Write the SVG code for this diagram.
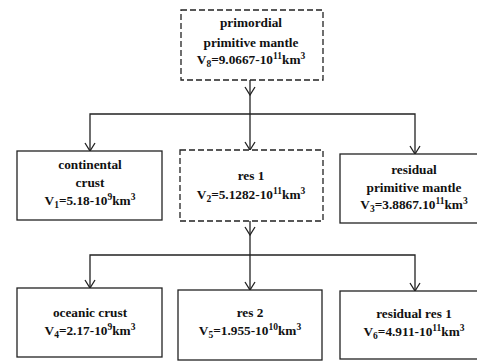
<svg xmlns="http://www.w3.org/2000/svg" width="477" height="361" viewBox="0 0 477 361">
<defs>
<style>
.box{fill:#fff;stroke:#222;stroke-width:1.3}
.dash{stroke-dasharray:6,3}
.t{font-family:"Liberation Serif","Times New Roman",serif;font-weight:bold;font-size:13.3px;fill:#111;text-anchor:middle}
.s{font-size:9.5px}
.c{fill:none;stroke:#222;stroke-width:1.3}
</style>
<marker id="arr" markerUnits="userSpaceOnUse" orient="auto" refX="0" refY="0" markerWidth="20" markerHeight="20" overflow="visible">
<path d="M-8,-5 L0,0 L-8,5" fill="none" stroke="#222" stroke-width="1.3"/>
</marker>
</defs>
<rect width="477" height="361" fill="#fff"/>
<g id="connectors">
<path class="c" d="M250,80 V95" marker-end="url(#arr)"/>
<path class="c" d="M250,95 V150" marker-end="url(#arr)"/>
<path class="c" d="M250,114 H90 V151" marker-end="url(#arr)"/>
<path class="c" d="M250,114 H415 V154" marker-end="url(#arr)"/>
<path class="c" d="M250,221 V235" marker-end="url(#arr)"/>
<path class="c" d="M250,235 V290" marker-end="url(#arr)"/>
<path class="c" d="M250,255 H90 V288" marker-end="url(#arr)"/>
<path class="c" d="M250,255 H415 V291" marker-end="url(#arr)"/>
</g>
<g id="primordial">
<rect class="box dash" x="181" y="10" width="142" height="70"/>
<text class="t" x="251" y="27">primordial</text>
<text class="t" x="251" y="47">primitive mantle</text>
<text class="t" x="251" y="64">V<tspan class="s" dy="3">8</tspan><tspan dy="-3">=9.0667-10</tspan><tspan class="s" dy="-5">11</tspan><tspan dy="5">km</tspan><tspan class="s" dy="-5">3</tspan></text>
</g>
<g id="continental">
<rect class="box" x="17" y="151" width="145" height="69"/>
<text class="t" x="90" y="169">continental</text>
<text class="t" x="90" y="187">crust</text>
<text class="t" x="90" y="205">V<tspan class="s" dy="3">1</tspan><tspan dy="-3">=5.18-10</tspan><tspan class="s" dy="-5">9</tspan><tspan dy="5">km</tspan><tspan class="s" dy="-5">3</tspan></text>
</g>
<g id="res1">
<rect class="box dash" x="180" y="150" width="143" height="71"/>
<text class="t" x="251" y="180">res 1</text>
<text class="t" x="251" y="199">V<tspan class="s" dy="3">2</tspan><tspan dy="-3">=5.1282-10</tspan><tspan class="s" dy="-5">11</tspan><tspan dy="5">km</tspan><tspan class="s" dy="-5">3</tspan></text>
</g>
<g id="residual-mantle">
<rect class="box" x="340" y="154" width="150" height="69"/>
<text class="t" x="414" y="174">residual</text>
<text class="t" x="414" y="192">primitive mantle</text>
<text class="t" x="414" y="209">V<tspan class="s" dy="3">3</tspan><tspan dy="-3">=3.8867.10</tspan><tspan class="s" dy="-5">11</tspan><tspan dy="5">km</tspan><tspan class="s" dy="-5">3</tspan></text>
</g>
<g id="oceanic">
<rect class="box" x="17" y="288" width="145" height="69"/>
<text class="t" x="90" y="317">oceanic crust</text>
<text class="t" x="90" y="335">V<tspan class="s" dy="3">4</tspan><tspan dy="-3">=2.17-10</tspan><tspan class="s" dy="-5">9</tspan><tspan dy="5">km</tspan><tspan class="s" dy="-5">3</tspan></text>
</g>
<g id="res2">
<rect class="box" x="178" y="290" width="144" height="70"/>
<text class="t" x="250" y="317">res 2</text>
<text class="t" x="250" y="335">V<tspan class="s" dy="3">5</tspan><tspan dy="-3">=1.955-10</tspan><tspan class="s" dy="-5">10</tspan><tspan dy="5">km</tspan><tspan class="s" dy="-5">3</tspan></text>
</g>
<g id="residual-res1">
<rect class="box" x="340" y="291" width="150" height="68"/>
<text class="t" x="414" y="318">residual res 1</text>
<text class="t" x="414" y="336">V<tspan class="s" dy="3">6</tspan><tspan dy="-3">=4.911-10</tspan><tspan class="s" dy="-5">11</tspan><tspan dy="5">km</tspan><tspan class="s" dy="-5">3</tspan></text>
</g>
</svg>
